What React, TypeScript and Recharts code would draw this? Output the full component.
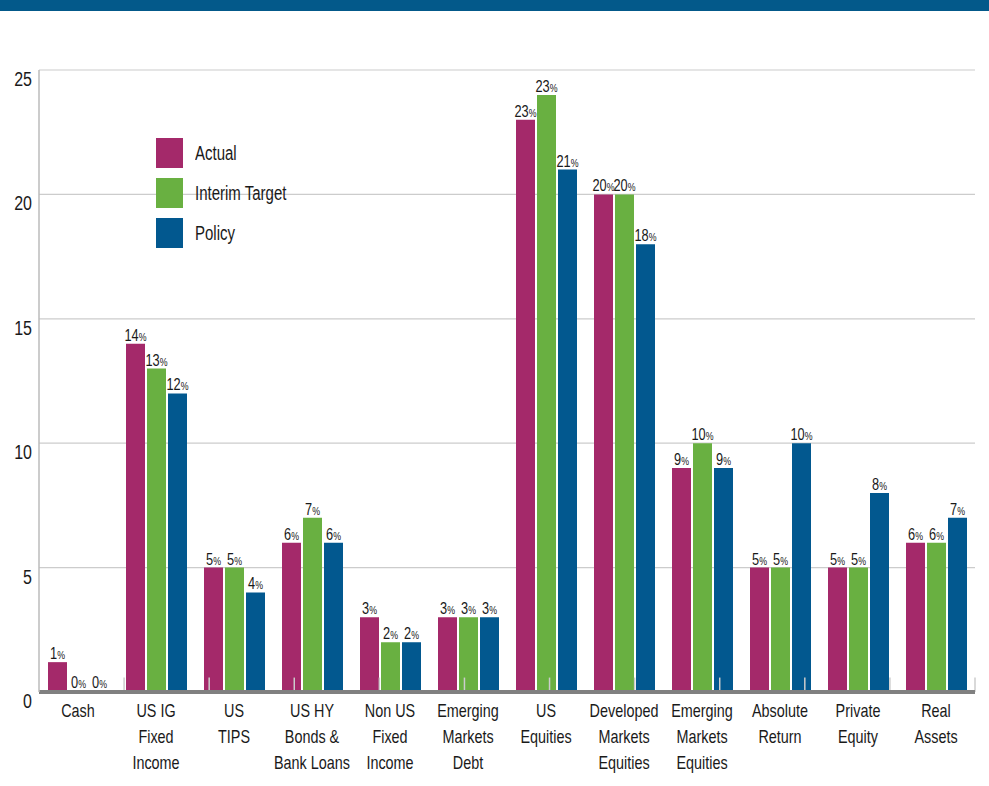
import { BarChart, Bar, XAxis, YAxis, CartesianGrid, LabelList, ReferenceLine, Legend } from 'recharts'

const FONT = '"Liberation Sans", Arial, sans-serif'
const SQUEEZE = 0.8

const categories = [
  'Cash',
  'US IG\nFixed\nIncome',
  'US\nTIPS',
  'US HY\nBonds &\nBank Loans',
  'Non US\nFixed\nIncome',
  'Emerging\nMarkets\nDebt',
  'US\nEquities',
  'Developed\nMarkets\nEquities',
  'Emerging\nMarkets\nEquities',
  'Absolute\nReturn',
  'Private\nEquity',
  'Real\nAssets',
]
const actual = [1.2, 14, 5, 6, 3, 3, 23, 20, 9, 5, 5, 6]
const interim = [0, 13, 5, 7, 2, 3, 24, 20, 10, 5, 5, 6]
const policy = [0, 12, 4, 6, 2, 3, 21, 18, 9, 10, 8, 7]
const actualLabels = ['1', '14', '5', '6', '3', '3', '23', '20', '9', '5', '5', '6']
const interimLabels = ['0', '13', '5', '7', '2', '3', '23', '20', '10', '5', '5', '6']
const policyLabels = ['0', '12', '4', '6', '2', '3', '21', '18', '9', '10', '8', '7']
const yTicks = [0, 5, 10, 15, 20, 25]

const COLORS = { actual: '#a4296a', interim: '#69b041', policy: '#02588f' }

const data = categories.map((c, i) => ({
  name: c,
  actual: actual[i],
  interim: interim[i],
  policy: policy[i],
  actualLabel: actualLabels[i],
  interimLabel: interimLabels[i],
  policyLabel: policyLabels[i],
}))

// zero values get a 1px stub so their "0%" label still renders (hidden under the baseline)
const stub = (v: any) => (v === 0 ? 1 : 0)

const PctLabel = (props: any) => {
  const { x, y, width, height, value } = props
  const top = height < 0 ? y + height : y
  return (
    <text
      transform={`translate(${x + width / 2},${top - 3}) scale(${SQUEEZE},1)`}
      textAnchor="middle"
      fontFamily={FONT}
      fill="#1a1a1a"
    >
      <tspan fontSize={16}>{value}</tspan>
      <tspan fontSize={11}>%</tspan>
    </text>
  )
}

const CategoryTick = ({ x, y, payload }: any) => {
  const lines = String(payload.value).split('\n')
  return (
    <text
      transform={`translate(${x},${y}) scale(${SQUEEZE},1)`}
      textAnchor="middle"
      fontFamily={FONT}
      fontSize={18}
      fill="#1a1a1a"
    >
      {lines.map((l, i) => (
        <tspan key={i} x={0} dy={i === 0 ? 23 : 26}>{l}</tspan>
      ))}
    </text>
  )
}

const ValueTick = ({ x, y, payload }: any) => (
  <text
    transform={`translate(${x},${y + 16}) scale(${SQUEEZE},1)`}
    textAnchor="end"
    fontFamily={FONT}
    fontSize={20}
    fill="#1a1a1a"
  >
    {payload.value}
  </text>
)

const LegendBox = ({ payload }: any) => (
  <div style={{ fontFamily: FONT, fontSize: 20, color: '#1a1a1a' }}>
    {(payload || []).map((p: any) => (
      <div key={p.value} style={{ display: 'flex', alignItems: 'center', height: 30, marginBottom: 10 }}>
        <div style={{ width: 27, height: 30, background: p.color, marginRight: 12 }} />
        <span style={{ display: 'inline-block', transform: 'scaleX(0.75)', transformOrigin: 'left center', whiteSpace: 'nowrap' }}>
          {p.value}
        </span>
      </div>
    ))}
  </div>
)

export default function App() {
  const seps = categories.map((_, i) => i + 1)
  return (
    <div style={{ position: 'absolute', left: 0, top: 0, width: 989, height: 786, background: '#fff' }}>
      <div style={{ position: 'absolute', left: 0, top: 0, width: 989, height: 11, background: '#03598a' }} />
      <BarChart
        width={989}
        height={786}
        data={data}
        margin={{ top: 70, right: 14, bottom: 0, left: 0 }}
        barSize={19}
        barGap={2}
      >
        <CartesianGrid vertical={false} stroke="#cccccc" strokeWidth={1.2} />
        <XAxis
          dataKey="name"
          interval={0}
          height={94}
          tickLine={false}
          tickSize={0}
          axisLine={{ stroke: '#808080', strokeWidth: 4 }}
          tick={<CategoryTick />}
        />
        <XAxis xAxisId="sep" type="number" domain={[0, categories.length]} hide />
        <YAxis
          domain={[0, 25]}
          ticks={yTicks}
          width={39}
          tickLine={false}
          tickSize={0}
          tickMargin={7}
          axisLine={{ stroke: '#bbbbbb', strokeWidth: 1.5 }}
          tick={<ValueTick />}
        />
        {seps.map(s => (
          <ReferenceLine
            key={s}
            xAxisId="sep"
            segment={[{ x: s, y: 0 }, { x: s, y: 0.58 }]}
            stroke="#cccccc"
            strokeWidth={1.5}
          />
        ))}
        <Legend
          layout="vertical"
          align="center"
          verticalAlign="middle"
          wrapperStyle={{ left: 156, top: 138, width: 220 }}
          content={<LegendBox />}
        />
        <Bar dataKey="actual" name="Actual" fill={COLORS.actual} minPointSize={stub} isAnimationActive={false}>
          <LabelList dataKey="actualLabel" content={<PctLabel />} />
        </Bar>
        <Bar dataKey="interim" name="Interim Target" fill={COLORS.interim} minPointSize={stub} isAnimationActive={false}>
          <LabelList dataKey="interimLabel" content={<PctLabel />} />
        </Bar>
        <Bar dataKey="policy" name="Policy" fill={COLORS.policy} minPointSize={stub} isAnimationActive={false}>
          <LabelList dataKey="policyLabel" content={<PctLabel />} />
        </Bar>
      </BarChart>
    </div>
  )
}
